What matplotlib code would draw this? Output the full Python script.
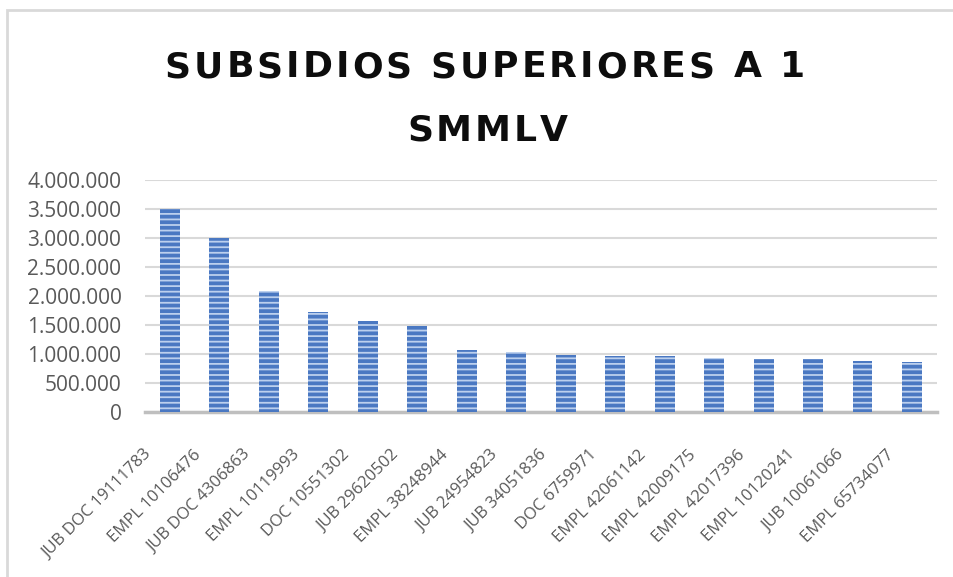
import matplotlib
matplotlib.use("Agg")
import matplotlib.pyplot as plt
from matplotlib.patches import Rectangle
from matplotlib.ticker import FuncFormatter
from matplotlib.transforms import ScaledTranslation

# datos
categorias = ["JUB DOC 19111783", "EMPL 10106476", "JUB DOC 4306863", "EMPL 10119993",
              "DOC 10551302", "JUB 29620502", "EMPL 38248944", "JUB 24954823",
              "JUB 34051836", "DOC 6759971", "EMPL 42061142", "EMPL 42009175",
              "EMPL 42017396", "EMPL 10120241", "JUB 10061066", "EMPL 65734077"]
valores = [3500000, 3000000, 2080000, 1725000, 1575000, 1490000, 1070000, 1030000,
           990000, 960000, 958000, 930000, 918000, 916000, 878000, 855000]
ticks_y = [0, 500000, 1000000, 1500000, 2000000, 2500000, 3000000, 3500000, 4000000]
titulo = ["SUBSIDIOS SUPERIORES A 1", "SMMLV"]

plt.rcParams['font.family'] = ['Open Sans', 'DejaVu Sans']
plt.rcParams['hatch.linewidth'] = 1.3

fig = plt.figure(figsize=(9.54, 5.77), dpi=100)
ax = fig.add_axes([0.152, 0.286, 0.83, 0.402])

# borde del area del grafico
fig.patches.append(Rectangle((7 / 954, -0.05), 1.05, 1 - 10 / 577 + 0.05,
                             transform=fig.transFigure, fill=False,
                             edgecolor='#d9d9d9', linewidth=2))

x = range(len(categorias))
ax.bar(x, valores, width=0.4, color='#4a78c2', edgecolor='#bcd0ee',
       hatch='---', linewidth=0, zorder=3)

ax.set_ylim(0, 4000000)
ax.set_xlim(-0.5, len(categorias) - 0.5)
ax.set_yticks(ticks_y)
ax.yaxis.set_major_formatter(FuncFormatter(lambda v, p: f"{int(v):,}".replace(",", ".")))
ax.grid(axis='y', color='#d9d9d9', linewidth=1.5, zorder=0)
for s in ['top', 'right', 'left']:
    ax.spines[s].set_visible(False)
ax.spines['bottom'].set_color('#bfbfbf')
ax.spines['bottom'].set_linewidth(2.5)
ax.tick_params(axis='y', length=0, pad=17, labelsize=15, labelcolor='#595959')
ax.tick_params(axis='x', length=0, pad=0, labelsize=12, labelcolor='#595959')

ax.set_xticks(list(x))
ax.set_xticklabels(categorias, rotation=45, ha='right', va='center', rotation_mode='anchor')
off = ScaledTranslation(-15 / 72, -29 / 72, fig.dpi_scale_trans)
for lbl in ax.get_xticklabels():
    lbl.set_transform(lbl.get_transform() + off)

# titulo con espaciado entre letras (como en Excel)
renderer = fig.canvas.get_renderer()
props = dict(fontsize=26, fontweight='heavy', color='#0d0d0d', family='DejaVu Sans')
track = 3.0  # px extra por letra
for linea, base in zip(titulo, [77, 141]):
    def ancho(s):
        if not s:
            return 0.0
        t = fig.text(0, 0, s.replace(" ", "\u00a0"), **props)
        w = t.get_window_extent(renderer).width
        t.remove()
        return w
    total = ancho(linea) + track * (len(linea) - 1)
    x0 = 485 - total / 2
    for i, ch in enumerate(linea):
        if ch == " ":
            continue
        px = x0 + ancho(linea[:i]) + track * i
        fig.text(px / 954, 1 - base / 577, ch, ha='left', va='baseline', **props)

fig.savefig("out.png", dpi=100)
